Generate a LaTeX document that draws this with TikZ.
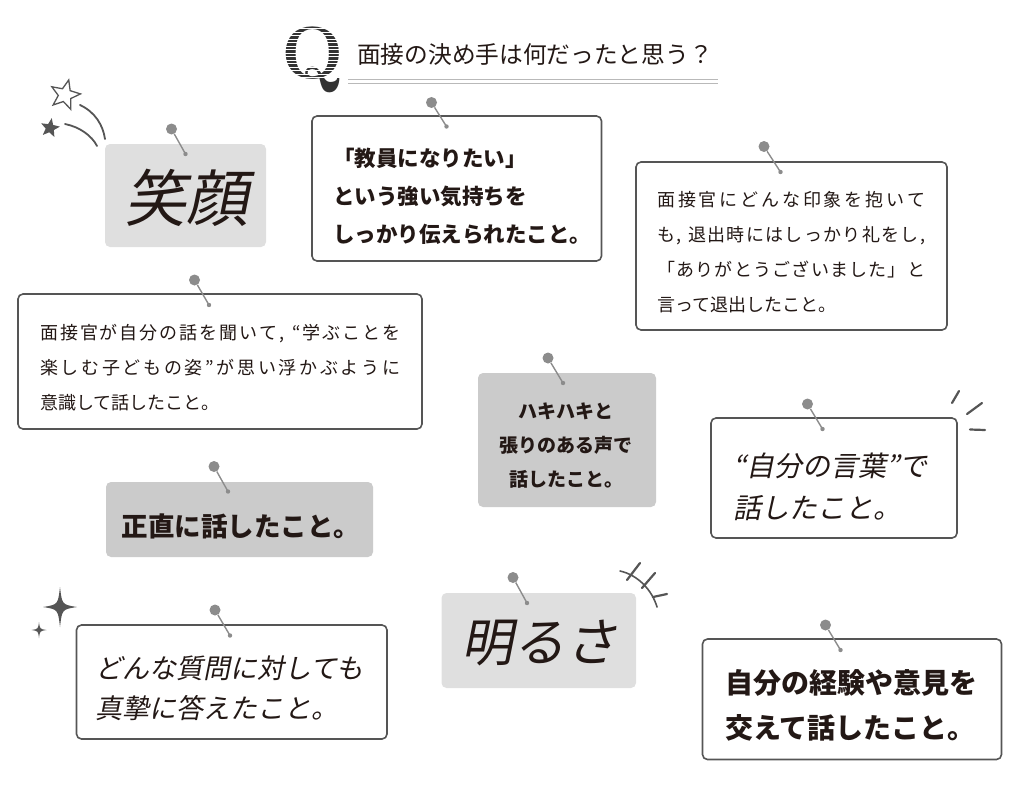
\documentclass[tikz,border=0pt]{standalone}
\usepackage{fontspec}
\usepackage{xcolor}
\usepackage{tikz}
\usetikzlibrary{positioning, shapes.geometric}
\newfontfamily\jp{Noto Sans CJK JP}
\newfontfamily\jphand{Noto Sans CJK JP}[FakeSlant=0.2]
\definecolor{ink}{HTML}{231815}
\definecolor{framec}{HTML}{555555}
\definecolor{pinc}{HTML}{8C8C8C}
\definecolor{cardlight}{HTML}{DFDFDF}
\definecolor{carddark}{HTML}{CBCBCB}
% justified line: glue between the characters
\def\spreadrest#1{\ifx#1\relax\else\hskip 0pt plus 1fil#1\expandafter\spreadrest\fi}
\def\spreadfirst#1{#1\spreadrest}
\newcommand\spreadline[2]{\hbox to #1{\spreadfirst#2\relax}}

\begin{document}
\begin{tikzpicture}[x=1pt, y=-1pt,
  card/.style={rectangle, rounded corners=5pt, inner sep=0pt},
  whitebox/.style={card, draw=framec, line width=1.6pt, fill=white},
  lightbox/.style={card, fill=cardlight},
  darkbox/.style={card, fill=carddark},
  txt/.style={inner sep=0pt, text=ink},
  pinhead/.style={circle, fill=pinc, inner sep=0pt, minimum size=11pt},
  pinline/.style={pinc, line width=1.4pt},
  deco/.style={framec, line width=2.2pt, line cap=round}]

\useasboundingbox (0,0) rectangle (1024,789);

% title
\draw[gray!55, line width=1.2pt] (348,79.5) -- (718,79.5);
\draw[gray!55, line width=1.2pt] (348,83.5) -- (718,83.5);
\node[txt, text=black!80, anchor=base, font=\rmfamily\bfseries\fontsize{74}{74}\selectfont] (qmark) at (313,78.5) {Q};
\foreach \yy in {29,32.5,...,78} {
  \draw[white, line width=1pt] (285,\yy) -- (343,\yy);
}
\node[txt, anchor=west, font=\jp\fontsize{23.7}{24}\selectfont] (title) at (357,55) {面接の決め手は何だったと思う？};

% cards
\node[lightbox, minimum width=161pt, minimum height=103pt] (egao) at (185.5,195.5) {};
\node[whitebox, minimum width=289.5pt, minimum height=145pt] (kyoin) at (456.75,188.5) {};
\node[whitebox, minimum width=311pt, minimum height=168pt] (taishutsu) at (791.5,246) {};
\node[whitebox, minimum width=404pt, minimum height=135pt] (ishiki) at (220,361.5) {};
\node[darkbox, minimum width=178pt, minimum height=134pt] (hakihaki) at (567,440) {};
\node[darkbox, minimum width=267pt, minimum height=75pt] (shojiki) at (239.5,519.5) {};
\node[whitebox, minimum width=246pt, minimum height=120pt] (kotoba) at (834,478) {};
\node[whitebox, minimum width=310.5pt, minimum height=114pt] (shinshi) at (231.75,682) {};
\node[lightbox, minimum width=194.5pt, minimum height=95pt] (akarusa) at (538.75,640.5) {};
\node[whitebox, minimum width=299pt, minimum height=120.5pt] (keiken) at (852,699.25) {};

% pins
\foreach \n/\hx/\hy/\dx/\dy in {egao/171.5/129/185.5/154, kyoin/431.5/102.5/446.5/126.5,
    taishutsu/764/146.5/780.5/172, ishiki/194.5/280/209/305, hakihaki/548/358/563/383,
    shojiki/214/466.5/228/491.5, kotoba/807.5/404/822.5/429, shinshi/215/610/230/635.5,
    akarusa/513/577.5/527/603, keiken/825.5/625/840.5/650} {
  \node[pinhead] (pin-\n) at (\hx,\hy) {};
  \coordinate (dot-\n) at (\dx,\dy);
  \draw[pinline] (pin-\n) -- (dot-\n);
  \fill[pinc] (dot-\n) circle (2.2);
}

% texts
\node[txt, font=\jphand\fontsize{62}{62}\selectfont] (egaoT) at (186,198) {笑顔};
\node[txt, anchor=west, align=left, font=\jp\bfseries\fontsize{21.5}{38}\selectfont] (kyoinT) at (333,196)
  {「教員になりたい」\\という強い気持ちを\\しっかり伝えられたこと。};
\node[txt, anchor=west, align=left, font=\jp\fontsize{18}{35}\selectfont] (taishutsuT) at (657,252.5)
  {\spreadline{268pt}{面接官にどんな印象を抱いて}\\\spreadline{268pt}{も,~退出時にはしっかり礼をし,}\\
   \spreadline{268pt}{「ありがとうございました」と}\\言って退出したこと。};
\node[txt, anchor=west, align=left, font=\jp\fontsize{18}{35}\selectfont] (ishikiT) at (40,368)
  {\spreadline{360pt}{面接官が自分の話を聞いて,~“学ぶことを}\\\spreadline{360pt}{楽しむ子どもの姿”が思い浮かぶように}\\
   意識して話したこと。};
\node[txt, align=center, font=\jp\bfseries\fontsize{19}{34}\selectfont] (hakihakiT) at (566,446)
  {ハキハキと\\張りのある声で\\話したこと。};
\node[txt, font=\jp\bfseries\fontsize{26.5}{26.5}\selectfont] (shojikiT) at (241,526) {正直に話したこと。};
\node[txt, anchor=west, align=left, font=\jphand\fontsize{28}{42}\selectfont] (kotobaT) at (733,487)
  {“自分の言葉”で\\話したこと。};
\node[txt, anchor=west, align=left, font=\jphand\fontsize{27}{40}\selectfont] (shinshiT) at (95,688)
  {どんな質問に対しても\\真摯に答えたこと。};
\node[txt, font=\jphand\fontsize{52}{52}\selectfont] (akarusaT) at (539,643) {明るさ};
\node[txt, anchor=west, align=left, font=\jp\bfseries\fontsize{28}{45.5}\selectfont] (keikenT) at (725,705.5)
  {自分の経験や意見を\\交えて話したこと。};

% stars
\node[star, star points=5, star point ratio=2.3, draw=framec, line width=1.3pt, fill=white,
  minimum size=31pt, inner sep=0pt, rotate=-14] (starA) at (65,95) {};
\node[star, star points=5, star point ratio=2.3, fill=framec,
  minimum size=20pt, inner sep=0pt, rotate=-10] (starB) at (50,128) {};
\draw[deco, line width=1.8pt] (80,105) .. controls (95,112) and (103,125) .. (105,139);
\draw[deco, line width=1.8pt] (65,124) .. controls (80,127) and (92,136) .. (97,146);

% sparkles
\foreach \cx/\cy/\w/\h in {60/607/17/20, 39/630/7.5/8} {
  \fill[framec] (\cx,\cy-\h) .. controls (\cx+0.12*\w,\cy-0.12*\h) .. (\cx+\w,\cy)
    .. controls (\cx+0.12*\w,\cy+0.12*\h) .. (\cx,\cy+\h)
    .. controls (\cx-0.12*\w,\cy+0.12*\h) .. (\cx-\w,\cy)
    .. controls (\cx-0.12*\w,\cy-0.12*\h) .. cycle;
}

% marks near kotoba
\draw[deco] (952,403) -- (959,391);
\draw[deco] (967,414) -- (982,403);
\draw[deco] (970,429.5) -- (985,430);

% marks near akarusa
\draw[deco, line width=1.6pt] (620,571) .. controls (638,575) and (652,590) .. (657,607);
\draw[deco] (627,580) -- (640,563);
\draw[deco] (642,588) -- (655,573);
\draw[deco] (653,597) -- (667,594);
\end{tikzpicture}
\end{document}
